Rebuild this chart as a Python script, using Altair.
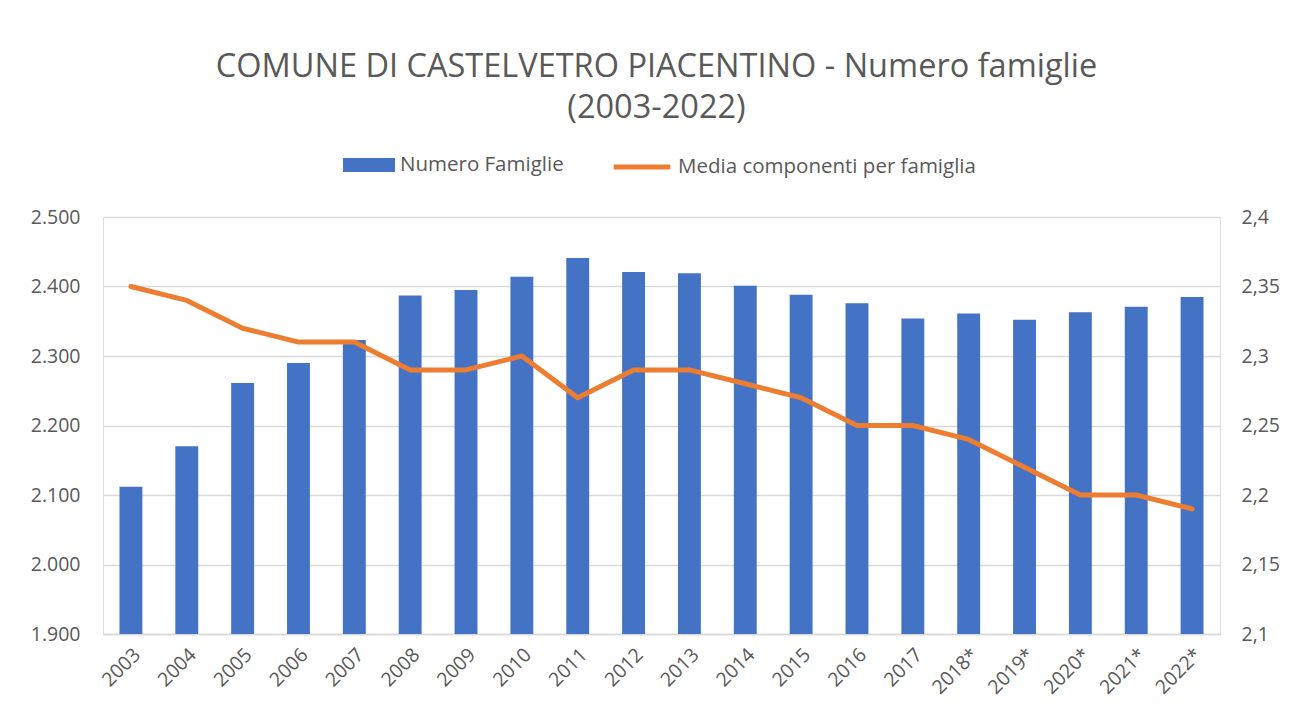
import altair as alt
import pandas as pd

anni = ["2003", "2004", "2005", "2006", "2007", "2008", "2009", "2010", "2011", "2012",
        "2013", "2014", "2015", "2016", "2017", "2018*", "2019*", "2020*", "2021*", "2022*"]
famiglie = [2112, 2170, 2261, 2290, 2323, 2387, 2395, 2414, 2441, 2421,
            2419, 2401, 2388, 2376, 2354, 2361, 2352, 2363, 2371, 2385]
media = [2.35, 2.34, 2.32, 2.31, 2.31, 2.29, 2.29, 2.30, 2.27, 2.29,
         2.29, 2.28, 2.27, 2.25, 2.25, 2.24, 2.22, 2.20, 2.20, 2.19]
left_ticks = [1900, 2000, 2100, 2200, 2300, 2400, 2500]
right_ticks = [2.1, 2.15, 2.2, 2.25, 2.3, 2.35, 2.4]
serie_barre = "Numero Famiglie"
serie_linea = "Media componenti per famiglia"

df = pd.DataFrame({
    "anno": anni,
    "famiglie": famiglie,
    "media": media,
    "s1": [serie_barre] * len(anni),
    "s2": [serie_linea] * len(anni),
})

FONT = "Open Sans"
GREY = "#595959"
AX = 19.5

x = alt.X("anno:N", sort=anni, title=None,
          scale=alt.Scale(paddingInner=0.59, paddingOuter=0.295),
          axis=alt.Axis(labelAngle=-45, labelFontSize=AX, labelColor=GREY, labelFont=FONT,
                        ticks=False, domainColor="#D9D9D9", domainWidth=1.5,
                        labelPadding=11, grid=False))

bars = alt.Chart(df).mark_bar(color="#4472C4", clip=True).encode(
    x=x,
    y=alt.Y("famiglie:Q", title=None,
            scale=alt.Scale(domain=[1900, 2500], nice=False, zero=False),
            axis=alt.Axis(values=left_ticks, labelFontSize=AX, labelColor=GREY, labelFont=FONT,
                          ticks=False, domain=False, gridColor="#D9D9D9", gridWidth=1.5,
                          labelPadding=23,
                          labelExpr="replace(format(datum.value, ',.0f'), ',', '.')")),
    fill=alt.Fill("s1:N", scale=alt.Scale(domain=[serie_barre], range=["#4472C4"]),
                  legend=alt.Legend(title=None, orient="none", legendX=240, legendY=-78,
                                    symbolType="M-1,-0.27H1V0.27H-1Z", symbolSize=2704,
                                    symbolStrokeWidth=0, labelFontSize=20.5, labelColor=GREY,
                                    labelFont=FONT, labelOffset=5, padding=0, labelLimit=500)),
)

line = alt.Chart(df).mark_line(strokeWidth=5, strokeCap="round", strokeJoin="round").encode(
    x=x,
    y=alt.Y("media:Q", title=None,
            scale=alt.Scale(domain=[2.1, 2.4], nice=False, zero=False),
            axis=alt.Axis(values=right_ticks, orient="right", labelFontSize=AX, labelColor=GREY,
                          labelFont=FONT, ticks=False, domain=False, grid=False,
                          labelPadding=21,
                          labelExpr="replace(format(datum.value, '.2~f'), '.', ',')")),
    stroke=alt.Stroke("s2:N", scale=alt.Scale(domain=[serie_linea], range=["#ED7D31"]),
                      legend=alt.Legend(title=None, orient="none", legendX=508, legendY=-81,
                                        symbolType="stroke", symbolSize=3200,
                                        symbolStrokeWidth=5, labelFontSize=20.5, labelColor=GREY,
                                        labelFont=FONT, labelOffset=5, padding=0, labelLimit=500)),
)

chart = alt.layer(bars, line).resolve_scale(y="independent", fill="independent", stroke="independent").properties(
    width=1117,
    height=417,
    autosize=alt.AutoSizeParams(type="none"),
    padding={"left": 95, "top": 209, "right": 62, "bottom": 78},
    title=alt.TitleParams(
        ["COMUNE DI CASTELVETRO PIACENTINO - Numero famiglie", "(2003-2022)"],
        fontSize=32.5, font=FONT, color=GREY, fontWeight="normal", lineHeight=41,
        anchor="middle", offset=12, dx=-5,
    ),
).configure_view(stroke=None).configure(background="white")

chart.save("out.html", embed_options={"renderer": "svg", "actions": False})
